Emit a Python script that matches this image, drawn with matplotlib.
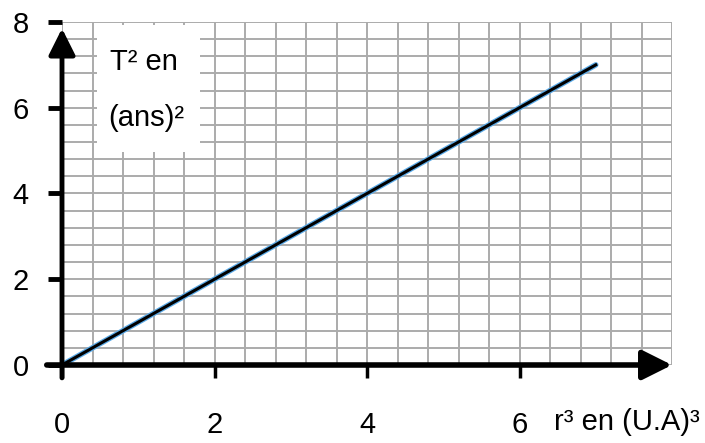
import matplotlib
matplotlib.use("Agg")
import matplotlib.pyplot as plt
from matplotlib.patches import Rectangle
import numpy as np

plt.rcParams['font.family'] = ['Liberation Sans Narrow', 'Liberation Sans', 'DejaVu Sans']

# data
r3 = [0, 7]          # r^3 en (U.A)^3
T2 = [0, 7]          # T^2 en (ans)^2
x_ticks = [0, 2, 4, 6]
y_ticks = [0, 2, 4, 6, 8]
grid_step = 0.4
x_max = 8
y_max = 8

fig = plt.figure(figsize=(7.05, 4.43), dpi=100)
ax = fig.add_axes([62 / 705, 78 / 443, 610 / 705, 343 / 443])
ax.set_xlim(0, x_max)
ax.set_ylim(0, y_max)

# squared paper
grid = np.arange(0, x_max + 1e-9, grid_step)
ax.vlines(grid, 0, y_max, color='#ababab', lw=1.4, zorder=1)
ax.hlines(np.arange(0, y_max + 1e-9, grid_step), 0, x_max, color='#ababab', lw=1.4, zorder=1)

# white label box
ax.add_patch(Rectangle((0.46, 4.97), 1.35, 2.95, facecolor='white', edgecolor='none', zorder=2))
ax.text(0.63, 7.06, 'T² en', fontsize=21, va='center', ha='left', zorder=3)
ax.text(0.61, 5.76, '(ans)²', fontsize=21, va='center', ha='left', zorder=3)

# the line
ax.plot(r3, T2, color='#5aa9e6', lw=4, zorder=4, solid_capstyle='round')
ax.plot(r3, T2, color='black', lw=2.2, zorder=5)

for s in ax.spines.values():
    s.set_visible(False)

# axes with arrows
ax.annotate('', xy=(8.0, 0), xytext=(-0.2, 0), annotation_clip=False,
            arrowprops=dict(arrowstyle='-|>,head_length=0.9,head_width=0.45', lw=4,
                            color='black', mutation_scale=20, shrinkA=0, shrinkB=0), zorder=6)
ax.annotate('', xy=(0, 7.85), xytext=(0, -0.3), annotation_clip=False,
            arrowprops=dict(arrowstyle='-|>,head_length=0.8,head_width=0.4', lw=3.5,
                            color='black', mutation_scale=20, shrinkA=0, shrinkB=0), zorder=6)

ax.set_xticks(x_ticks)
ax.set_yticks(y_ticks)
ax.tick_params(axis='x', length=9, width=2.5, pad=24, labelsize=21)
ax.tick_params(axis='y', length=10, width=3.5, pad=14, labelsize=21)

ax.text(6.45, -1.33, 'r³ en (U.A)³', fontsize=21, va='center', ha='left', clip_on=False)

fig.savefig('out.png', dpi=100)
